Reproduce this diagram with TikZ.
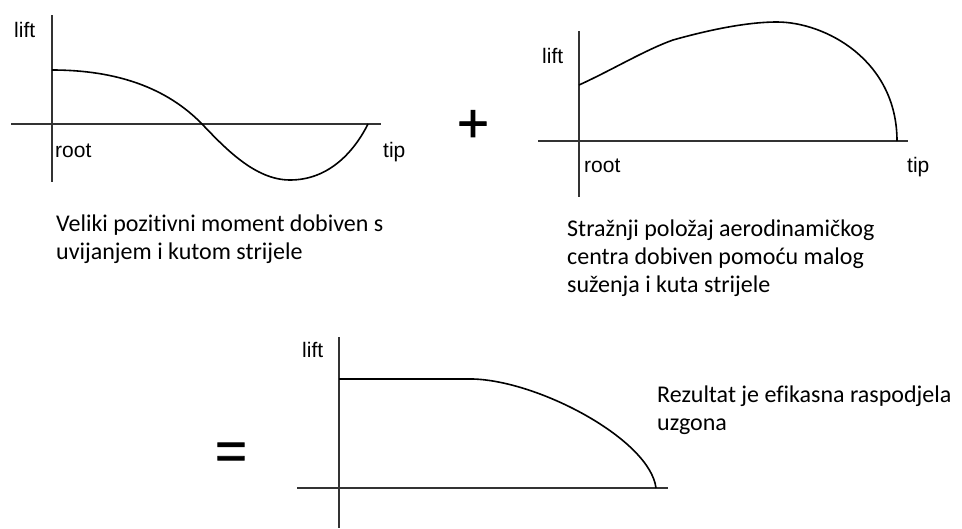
\documentclass[tikz,border=0pt]{standalone}
\usepackage{fontspec}
\setmainfont{Carlito}[Ligatures=NoCommon]
\newfontfamily\arialf{Liberation Sans}
\newfontfamily\symf{Liberation Sans}[FakeBold=1.6]
\begin{document}
\begin{tikzpicture}[x=1pt,y=-1pt,
  axis/.style={line width=1.3pt, draw=black!80},
  curve/.style={line width=1.6pt, draw=black},
  lbl/.style={font=\arialf\fontsize{21}{24}\selectfont, inner sep=0pt, anchor=base west},
  desc/.style={font=\fontsize{24}{28}\selectfont, inner sep=0pt, align=left, anchor=north west},
  sym/.style={font=\symf\fontsize{54}{60}\selectfont, inner sep=0pt}]
\useasboundingbox[fill=white] (0,0) rectangle (962,528);

% ---------- graph 1 ----------
\coordinate (v1t) at (52,15);  \coordinate (v1b) at (52,182);
\coordinate (h1l) at (11,124); \coordinate (h1r) at (381,124);
\draw[axis] (v1t) -- (v1b);
\draw[axis] (h1l) -- (h1r);
\draw[curve] (52,70) .. controls (117,70) and (167,88) .. (202,124)
  .. controls (225,148) and (255,180) .. (290,180)
  .. controls (330,180) and (355,150) .. (368,124);
\node[lbl] (lift1) at (14,37) {lift};
\node[lbl] (root1) at (55,157) {root};
\node[lbl] (tip1) at (383,157) {tip};

% ---------- plus ----------
\node[sym] (plus) at (473,126) {+};

% ---------- graph 2 ----------
\coordinate (v2t) at (579,31);  \coordinate (v2b) at (579,197);
\coordinate (h2l) at (538,141); \coordinate (h2r) at (908,141);
\draw[axis] (v2t) -- (v2b);
\draw[axis] (h2l) -- (h2r);
\draw[curve] (579,85) .. controls (612,70) and (645,50) .. (673,40)
  .. controls (705,31) and (745,22) .. (777,22)
  .. controls (825,22) and (897,60) .. (897,141);
\node[lbl] (lift2) at (542,63) {lift};
\node[lbl] (root2) at (584,172) {root};
\node[lbl] (tip2) at (907,172) {tip};

% ---------- descriptions ----------
\node[desc] (d1) at (56,215) {Veliki pozitivni moment dobiven s\\uvijanjem i kutom strijele};
\node[desc] (d2) at (567,220) {Stražnji položaj aerodinamičkog\\centra dobiven pomoću malog\\suženja i kuta strijele};

% ---------- equals ----------
\node[sym] (eq) at (231,456) {=};

% ---------- graph 3 ----------
\coordinate (v3t) at (339,337); \coordinate (v3b) at (339,528);
\coordinate (h3l) at (297,488); \coordinate (h3r) at (668,488);
\draw[axis] (v3t) -- (v3b);
\draw[axis] (h3l) -- (h3r);
\draw[curve] (339,379) -- (473,379)
  .. controls (540,381) and (650,440) .. (656,488);
\node[lbl] (lift3) at (302,357) {lift};

\node[desc] (d3) at (657,386) {Rezultat je efikasna raspodjela\\uzgona};
\end{tikzpicture}
\end{document}
